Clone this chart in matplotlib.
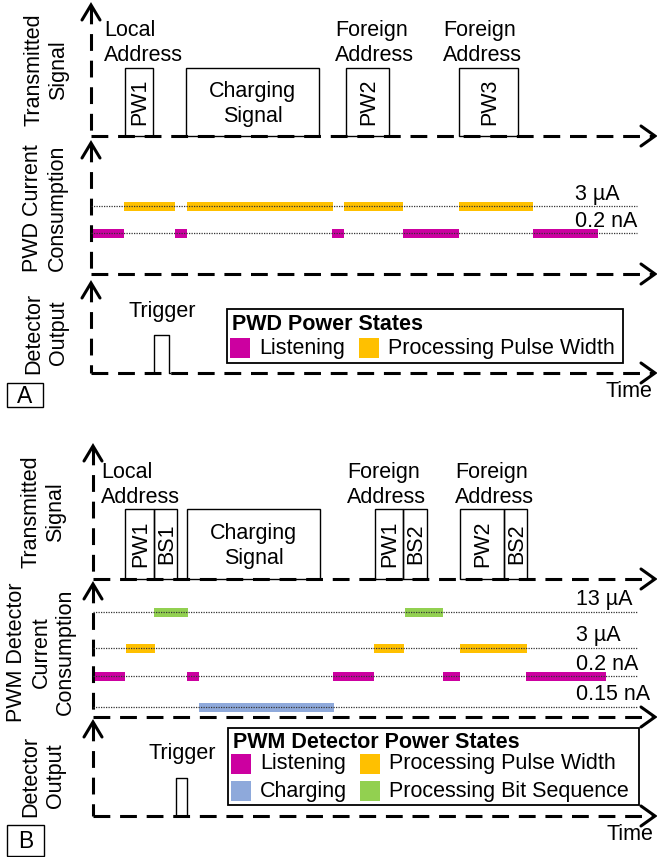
import matplotlib.pyplot as plt
from matplotlib.patches import Rectangle

plt.rcParams['font.family'] = ['Liberation Sans', 'DejaVu Sans']
FS = 15.5

# colours of the power states
MAGENTA = '#CC00A0'
ORANGE = '#FFC000'
GREEN = '#92D050'
BLUE = '#8EA9DB'

# ---- panel A data (time in px units along the x axis) ----
a_pulses = [('PW1', 125, 153), ('Charging\nSignal', 186, 319), ('PW2', 346, 389), ('PW3', 459, 518)]
a_addr = [('Local\nAddress', 104), ('Foreign\nAddress', 335), ('Foreign\nAddress', 443)]
a_levels = ['3 µA', '0.2 nA']
a_process = [(124, 175), (187, 333), (344, 403), (459, 533)]
a_listen = [(93, 124), (175, 187), (332, 344), (403, 459), (533, 598)]
a_trigger = (154, 169)

# ---- panel B data ----
b_pulses = [('PW1', 125, 154), ('BS1', 154, 177), ('Charging\nSignal', 187, 320),
            ('PW1', 375, 403), ('BS2', 403, 427), ('PW2', 460, 504), ('BS2', 504, 527)]
b_addr = [('Local\nAddress', 101), ('Foreign\nAddress', 347), ('Foreign\nAddress', 455)]
b_levels = ['13 µA', '3 µA', '0.2 nA', '0.15 nA']
b_bitseq = [(154, 188), (405, 443)]
b_process = [(126, 155), (374, 404), (460, 527)]
b_listen = [(94, 125), (187, 199), (333, 374), (443, 460), (526, 606)]
b_charge = [(199, 334)]
b_trigger = (176, 187)

fig = plt.figure(figsize=(6.57, 8.57), dpi=100)
ax = fig.add_axes([0, 0, 1, 1])
ax.set_xlim(0, 657)
ax.set_ylim(857, 0)
ax.axis('off')

DASH = (0, (5.5, 3.2))


def frame(x0, ytop, ybot, xend=655):
    ax.plot([x0, x0], [ytop + 2, ybot], color='black', lw=2.2, ls=DASH)
    ax.plot([x0, xend - 2], [ybot, ybot], color='black', lw=2.2, ls=DASH)
    ax.plot([x0 - 9, x0, x0 + 9], [ytop + 15, ytop, ytop + 15], color='black', lw=2.2,
            solid_capstyle='round', solid_joinstyle='miter')
    ax.plot([xend - 14, xend, xend - 14], [ybot - 10, ybot, ybot + 10], color='black', lw=2.2,
            solid_capstyle='round', solid_joinstyle='miter')


def ylabel(text, x, y):
    ax.text(x, y, text, rotation=90, ha='center', va='center', fontsize=FS,
            multialignment='center', linespacing=1.2)


def pulses(items, top, base):
    for name, s, e in items:
        ax.add_patch(Rectangle((s, top), e - s, base - top, fill=False, ec='black', lw=1.0, zorder=3))
        if '\n' in name:
            ax.text((s + e) / 2, (top + base) / 2 + 2, name, ha='center', va='center',
                    fontsize=FS, linespacing=1.2)
        else:
            ax.text((s + e) / 2 + 1, (top + base) / 2, name, ha='center', va='center',
                    fontsize=FS, rotation=90)


def levels(names, ys, x0, x1, lx):
    for name, y in zip(names, ys):
        ax.plot([x0, x1], [y, y], color='#333333', lw=0.9, ls=(0, (1, 1)), zorder=2)
        ax.text(lx, y - 12, name, ha='left', va='center', fontsize=FS)


def bars(segs, y, color, h=9):
    for s, e in segs:
        ax.add_patch(Rectangle((s, y - h / 2), e - s, h, color=color, lw=0, zorder=1))


def trigger(seg, top, base, ty):
    s, e = seg
    ax.plot([s - 1, s, s, e, e, e + 1], [base, base, top, top, base, base], color='black', lw=1.0)
    ax.text((s + e) / 2 + 1, ty, 'Trigger', ha='center', va='center', fontsize=FS)


def legend(box, title, entries):
    x0, y0, x1, y1 = box
    ax.add_patch(Rectangle((x0, y0), x1 - x0, y1 - y0, fill=False, ec='black', lw=1.3, zorder=3))
    ax.text(x0 + 5, y0 + 15, title, ha='left', va='center', fontsize=FS, fontweight='bold')
    for label, color, px, py in entries:
        ax.add_patch(Rectangle((px, py - 10), 20, 20, color=color, lw=0))
        ax.text(px + 29, py, label, ha='left', va='center', fontsize=FS)


def panel_tag(tag, x0, y0, x1, y1):
    ax.add_patch(Rectangle((x0, y0), x1 - x0, y1 - y0, fill=False, ec='black', lw=1.0))
    ax.text((x0 + x1) / 2, (y0 + y1) / 2 + 1, tag, ha='center', va='center', fontsize=FS + 1)


# ================= panel A =================
frame(91, 5, 136)
pulses(a_pulses, 68, 136)
for name, x in a_addr:
    ax.text(x, 43, name, ha='left', va='center', fontsize=FS, linespacing=1.2)
ylabel('Transmitted\nSignal', 46, 70)

frame(91, 143, 274)
levels(a_levels, [206, 233], 91, 637, 575)
bars(a_process, 206, ORANGE)
bars(a_listen, 233, MAGENTA)
ylabel('PWD Current\nConsumption', 45, 208)

frame(91, 283, 373)
trigger(a_trigger, 335, 373, 311)
legend((227, 309, 623, 363), 'PWD Power States',
       [('Listening', MAGENTA, 230, 348), ('Processing Pulse Width', ORANGE, 359, 348)])
ylabel('Detector\nOutput', 46, 333)
ax.text(629, 391, 'Time', ha='center', va='center', fontsize=FS)
panel_tag('A', 7, 383, 43, 407)

# ================= panel B =================
frame(93, 446, 579)
pulses(b_pulses, 509, 579)
for name, x in b_addr:
    ax.text(x, 485, name, ha='left', va='center', fontsize=FS, linespacing=1.2)
ylabel('Transmitted\nSignal', 43, 512)

frame(93, 584, 717)
levels(b_levels, [612, 648, 676, 707], 93, 638, 576)
bars(b_bitseq, 612, GREEN)
bars(b_process, 648, ORANGE)
bars(b_listen, 676, MAGENTA)
bars(b_charge, 707, BLUE)
ylabel('PWM Detector\nCurrent\nConsumption', 41, 652)

frame(93, 722, 816)
trigger(b_trigger, 778, 816, 753)
legend((228, 728, 639, 805), 'PWM Detector Power States',
       [('Listening', MAGENTA, 231, 764), ('Processing Pulse Width', ORANGE, 360, 764),
        ('Charging', BLUE, 231, 791), ('Processing Bit Sequence', GREEN, 360, 791)])
ylabel('Detector\nOutput', 43, 776)
ax.text(630, 834, 'Time', ha='center', va='center', fontsize=FS)
panel_tag('B', 7, 825, 44, 856)

fig.savefig('out.png', dpi=100)
